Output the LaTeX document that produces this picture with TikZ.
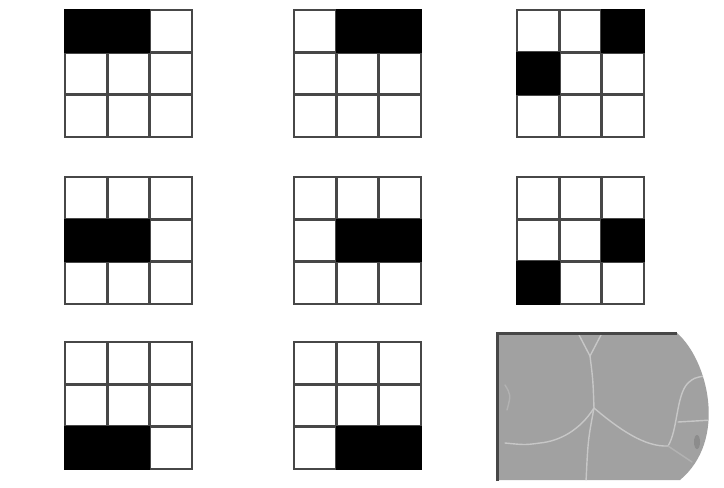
\documentclass[tikz,border=0pt]{standalone}
\newcommand\drawgrid[3]{%
  \begin{scope}[shift={(#1,#2)}]
    \foreach \i in {1,2}{
      \draw[gridline] ({\i*42.33},0) -- ({\i*42.33},127);
      \draw[gridline] (0,{\i*42.33}) -- (127,{\i*42.33});
    }
    \draw[gridline] (0,0) rectangle (127,127);
    \foreach \r/\c in {#3}
      \fill[black] ({(\c-1)*42.33-0.6},{(\r-1)*42.33-0.6}) rectangle ++(43.5,43.5);
  \end{scope}}
\begin{document}
\begin{tikzpicture}[x=1pt,y=-1pt,
  gridline/.style={draw=black!72, line width=2.4pt, line cap=rect},
  vein/.style={draw=white!78!black, line width=1.4pt, line cap=round},
  edge/.style={draw=black!72, line width=3pt}]
\useasboundingbox (0,0) rectangle (724,488);
\fill[white] (0,0) rectangle (724,488);

% row 1
\drawgrid{65}{10}{1/1,1/2}
\drawgrid{294}{10}{1/2,1/3}
\drawgrid{517}{10}{1/3,2/1}
% row 2
\drawgrid{65}{177}{2/1,2/2}
\drawgrid{294}{177}{2/2,2/3}
\drawgrid{517}{177}{2/3,3/1}
% row 3
\drawgrid{65}{342}{3/1,3/2}
\drawgrid{294}{342}{3/2,3/3}

% gray shape
\fill[white!63!black] (497,333) -- (677,333)
  .. controls (708,360) and (728,440) .. (680,480) -- (497,480) -- cycle;
\begin{scope}
\clip (497,333) -- (677,333)
  .. controls (708,360) and (728,440) .. (680,480) -- (497,480) -- cycle;
\draw[vein] (578,333) .. controls (584,345) .. (590,356);
\draw[vein] (602,333) .. controls (596,345) .. (590,356);
\draw[vein] (590,356) .. controls (593,380) .. (594,408);
\draw[vein] (594,408) .. controls (588,440) .. (586,482);
\draw[vein] (594,408) .. controls (580,430) and (560,441) .. (540,443)
  .. controls (525,445) .. (505,443);
\draw[vein, draw=white!70!black] (505,385) .. controls (511,395) .. (507,410);
\draw[vein] (594,408) .. controls (620,430) and (645,447) .. (668,446);
\draw[vein] (668,446) .. controls (678,430) and (676,395) .. (688,383)
  .. controls (694,378) .. (704,376);
\draw[vein] (678,422) -- (712,420);
\draw[vein, draw=white!70!black] (668,446) -- (692,462);
\fill[white!55!black] (697,442) ellipse (3pt and 7pt);
\end{scope}
\draw[edge] (497,481) -- (497,333) -- (677,333);
\end{tikzpicture}
\end{document}
